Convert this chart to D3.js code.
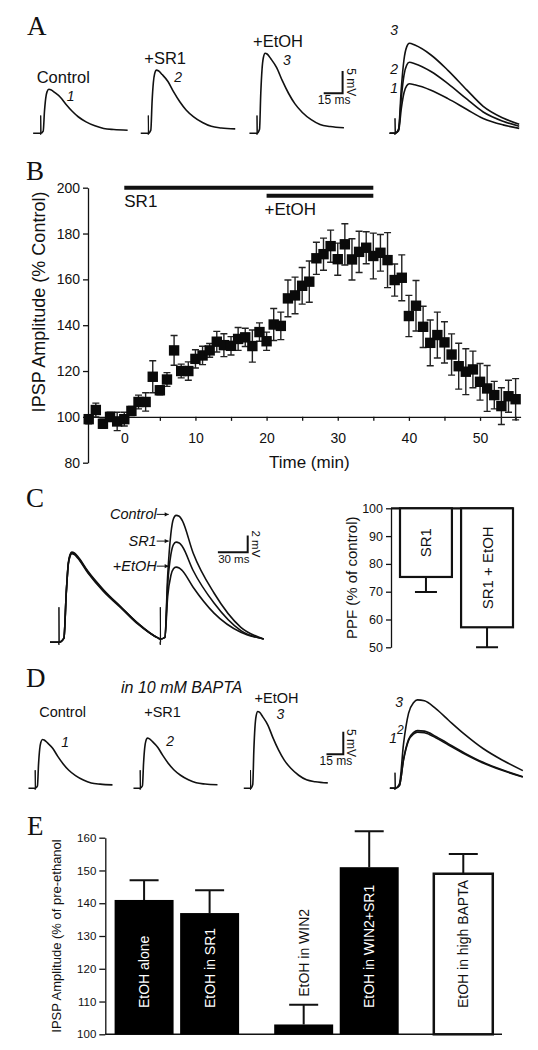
<!DOCTYPE html>
<html><head><meta charset="utf-8">
<script src="https://cdn.jsdelivr.net/npm/d3@7"></script>
<style>html,body{margin:0;padding:0;background:#fff;}svg{display:block;}</style>
</head><body>
<svg id="fig" width="538" height="1050"></svg>
<script>
// ================= DATA =================
// IPSP waveform template (ms after stimulus, fraction of peak)
const waveTime  = [-6, 0, 2, 3, 4, 5, 6.5, 8, 11, 15.6, 20, 25, 30, 36, 43, 50, 58, 69];
const waveShape = [0, 0, 0.05, 0.5, 0.8, 0.94, 1.0, 0.99, 0.93, 0.82, 0.66, 0.5, 0.37, 0.26, 0.17, 0.11, 0.085, 0.07];
// waveform of the overlay in A (slower sweep)
const overlayTime  = [-3, 0, 2, 3.5, 5, 6.5, 8, 11, 20, 29.4, 40, 49, 60, 69];
const overlayShape = [0, 0, 0.05, 0.5, 0.82, 0.96, 1.0, 0.98, 0.87, 0.7, 0.48, 0.3, 0.17, 0.1];
// broader waveform of the BAPTA overlay in D
const broadTime  = [-3, 0, 2.6, 5, 8, 11, 13.2, 17.3, 24, 31.5, 41, 51.8, 63, 75.2];
const broadShape = [0, 0, 0.05, 0.5, 0.85, 0.97, 1.0, 0.99, 0.9, 0.77, 0.61, 0.45, 0.32, 0.2];

// Panel A
const conditionsA = ["Control", "+SR1", "+EtOH"];
const traceIds = ["1", "2", "3"];
const peakA = [9.9, 14.2, 18.0];          // mV

// Panel B
const timeMin = [-5,-4,-3,-2,-1,0,1,2,3,4,5,6,7,8,9,10,11,12,13,14,15,16,17,18,19,20,21,22,23,24,25,26,27,28,29,30,31,32,33,34,35,36,37,38,39,40,41,42,43,44,45,46,47,48,49,50,51,52,53,54,55];
const ipspMean = [99,103,97,100,98, 99,102.6,106.5,106.5,117.5,111.6,116.3,129,120,120,
  125.3,126.8,129,132.8,131.3,131,134,134.7,130.9,137,
  133,140.3,139.7,151.7,153,157.2,159,169.2,171,174.5,
  168.8,175.3,168.7,172,173.8,170.2,171.6,168.4,159.7,160.7,
  144,148.5,139.3,132.3,135.7,132.5,127.2,122.1,119.7,120.7,
  115.3,112.4,109.5,104.7,109,107.7];
const ipspSem = [2,3,2,2,4, 3,2,3,4,7,2,3,6.5,3,4,
  4,4,3,4.5,5,4,5,4,7,4,
  4,7,6,8,8,8,9,7,7,7,
  7,9,9,9,7,10,8,12,7,10,
  9,11,9,10,10,9,9,10,10,8,
  8,10,6,8,7,9];
const treatments = ["SR1", "+EtOH"];
const treatStart = [0, 20];
const treatEnd = [35, 35];
const yTicksB = [80, 100, 120, 140, 160, 180, 200];

// Panel C (paired pulse traces, ms / mV)
const ppTime    = [0, 9, 14, 16.4, 18.4, 20.2, 21.9, 24.5, 27.8, 38.2, 53.8, 71.6, 88.2, 109, 111, 115.6, 118.4, 121.6, 124.2, 126.8, 130, 133, 144, 165, 192, 215];
const ppControl = [0, 0, 0.5, 6, 9.5, 10.5, 10.8, 10.7, 10.3, 8.5, 6.3, 4.2, 2.3, 0.5, 0.4, 0.6, 8, 13, 14.8, 15.2, 15.1, 14.6, 10.7, 5.9, 1.8, 0.4];
const ppSR1     = [0, 0, 0.5, 6, 9.4, 10.4, 10.7, 10.6, 10.2, 8.4, 6.2, 4.2, 2.3, 0.5, 0.4, 0.6, 7, 10.5, 11.7, 12, 11.9, 11.5, 8.6, 4.7, 1.4, 0.4];
const ppEtOH    = [0, 0, 0.5, 6, 9.3, 10.3, 10.6, 10.5, 10.1, 8.3, 6.1, 4.1, 2.2, 0.5, 0.4, 0.6, 5.5, 8, 8.8, 9, 8.9, 8.6, 6.6, 3.5, 1.2, 0.4];
const ppLabels  = ["Control", "SR1", "+EtOH"];
const stimC = [9, 111];
const ppfGroups = ["SR1", "SR1 + EtOH"];
const ppfMean = [75.3, 57.2];
const ppfSem = [5.4, 7.2];
const yTicksC = [50, 60, 70, 80, 90, 100];

// Panel D
const conditionsD = ["Control", "+SR1", "+EtOH"];
const peakD = [10.8, 11.1, 17.0];         // mV

// Panel E
const eCats = ["EtOH alone", "EtOH in SR1", "EtOH in WIN2", "EtOH in WIN2+SR1", "EtOH in high BAPTA"];
const eMean = [141, 137, 103, 151, 149];
const eSem  = [6, 7, 6, 11, 6];
const eGroup = [0, 0, 1, 1, 2];
const eSlot  = [0, 1, 0, 1, 0];
const eFill  = ["black", "black", "black", "black", "white"];
const yTicksE = [100, 110, 120, 130, 140, 150, 160];

// ================= DRAWING =================
const svg = d3.select("#fig");
svg.append("rect").attr("width", 538).attr("height", 1050).attr("fill", "#fff");
const SANS = "'Liberation Sans', Arial, Helvetica, sans-serif";
const SERIF = "'Liberation Serif', 'Times New Roman', serif";
const INK = "#111";

function txt(g, x, y, s, o = {}) {
  const t = g.append("text").attr("x", x).attr("y", y).text(s)
    .attr("font-family", o.serif ? SERIF : SANS).attr("font-size", o.size || 14)
    .attr("fill", o.fill || INK);
  if (o.italic) t.attr("font-style", "italic");
  if (o.anchor) t.attr("text-anchor", o.anchor);
  if (o.baseline) t.attr("dominant-baseline", o.baseline);
  if (o.rotate != null) t.attr("transform", `rotate(${o.rotate},${x},${y})`);
  return t;
}
const msScale = (stimX, pxPerMs) => d3.scaleLinear().domain([0, 100]).range([stimX, stimX + 100 * pxPerMs]);
const mvScale = (base, pxPerMv) => d3.scaleLinear().domain([0, 10]).range([base, base - 10 * pxPerMv]);

function trace(g, times, vals, x, y, w = 1.6) {
  g.append("path").datum(d3.zip(times, vals))
    .attr("d", d3.line().x(d => x(d[0])).y(d => y(d[1])).curve(d3.curveMonotoneX))
    .attr("fill", "none").attr("stroke", INK).attr("stroke-width", w).attr("stroke-linejoin", "round");
}
function artifact(g, x, y, t, h) {
  g.append("path").datum([[t - 0.4, 0], [t, -0.3], [t, h], [t + 0.3, 0]])
    .attr("d", d3.line().x(d => x(d[0])).y(d => y(d[1])))
    .attr("fill", "none").attr("stroke", INK).attr("stroke-width", 1);
}
function scaleBar(g, x, y, cx, cy, ms, mv, msLabel, mvLabel, fs) {
  const w = x(ms) - x(0), h = y(0) - y(mv);
  g.append("path").attr("d", `M${cx - w},${cy}H${cx}V${cy - h}`)
    .attr("fill", "none").attr("stroke", INK).attr("stroke-width", 2);
  txt(g, cx - w / 2 + 1, cy + 11, msLabel, {size: fs, anchor: "middle"});
  txt(g, cx + 4, cy - h / 2, mvLabel, {size: fs, anchor: "middle", rotate: 90});
}
function letter(s, x, y) { txt(svg, x, y, s, {serif: true, size: 27}); }

// ---------- Panel A ----------
const gA = svg.append("g");
letter("A", 27, 35);
const A = {base: 133.3, pxPerMs: 1.26, pxPerMv: 4.45, stims: [40.7, 148.3, 257]};
const yA = mvScale(A.base, A.pxPerMv);
conditionsA.forEach((c, i) => {
  const x = msScale(A.stims[i], A.pxPerMs);
  trace(gA, waveTime, waveShape.map(s => s * peakA[i]), x, yA);
  artifact(gA, x, yA, 0, 4);
  const py = yA(peakA[i]);
  txt(gA, x(0) - 4, py - 6, c, {size: 16.5});
  txt(gA, x(0) + 26, py + 12, traceIds[i], {size: 14, italic: true});
});
scaleBar(gA, msScale(0, A.pxPerMs), yA, 342.6, 93.3, 15, 5, "15 ms", "5 mV", 12);
{
  const x = msScale(395, 1.8), y = mvScale(A.base, 5.0);
  const off = [9, 12, -8];
  peakA.forEach((p, i) => {
    trace(gA, overlayTime, overlayShape.map(s => s * p), x, y);
    txt(gA, x(0) + 3, y(p) + off[i], traceIds[i], {size: 14, italic: true, anchor: "end"});
  });
  artifact(gA, x, y, 0, 3);
}

// ---------- Panel B ----------
const gB = svg.append("g");
letter("B", 26, 180);
const xB = d3.scaleLinear().domain([-5.1, 55.7]).range([88, 520.6]);
const yB = d3.scaleLinear().domain([80, 200]).range([462.7, 187.7]);
const axB = gB.append("g").attr("transform", `translate(${xB.range()[0]},0)`)
  .call(d3.axisLeft(yB).tickValues(yTicksB).tickSize(5).tickSizeOuter(0).tickPadding(3));
const axBx = gB.append("g").attr("transform", `translate(0,${yB(100)})`)
  .call(d3.axisBottom(xB).tickValues(d3.range(0, 56, 5)).tickFormat(d => d % 10 === 0 ? d : "")
    .tickSize(4).tickSizeOuter(0).tickPadding(12));
[axB, axBx].forEach(a => {
  a.attr("font-size", 14).attr("font-family", SANS);
  a.selectAll("path,line").attr("stroke", INK).attr("stroke-width", 1.3);
  a.selectAll("text").attr("fill", INK);
});
treatments.forEach((t, i) => {
  const yy = yB(200) + i * 8;
  gB.append("line").attr("x1", xB(treatStart[i])).attr("x2", xB(treatEnd[i]))
    .attr("y1", yy).attr("y2", yy).attr("stroke", INK).attr("stroke-width", 4);
  txt(gB, xB(treatStart[i]) - (i ? 2 : 0), yy + 19, t, {size: 17});
});
const pts = gB.append("g");
timeMin.forEach((t, i) => {
  const cx = xB(t), lo = yB(ipspMean[i] - ipspSem[i]), hi = yB(ipspMean[i] + ipspSem[i]);
  pts.append("path").attr("d", `M${cx},${lo}V${hi}M${cx - 3.5},${hi}H${cx + 3.5}M${cx - 3.5},${lo}H${cx + 3.5}`)
    .attr("stroke", "#222").attr("stroke-width", 1.4).attr("fill", "none");
});
timeMin.forEach((t, i) => {
  pts.append("rect").attr("x", xB(t) - 5.2).attr("y", yB(ipspMean[i]) - 5.2)
    .attr("width", 10.4).attr("height", 10.4).attr("fill", "#0a0a0a");
});
txt(gB, 45, 302, "IPSP Amplitude (% Control)", {size: 18, anchor: "middle", rotate: -90});
txt(gB, xB(26), 468, "Time (min)", {size: 17, anchor: "middle"});

// ---------- Panel C ----------
const gC = svg.append("g");
letter("C", 26, 507);
const xC = msScale(50, 0.994), yC = mvScale(642.3, 8.35);
[ppControl, ppSR1, ppEtOH].forEach(v => trace(gC, ppTime, v, xC, yC, 1.6));
stimC.forEach(s => artifact(gC, xC, yC, s, 4.2));
[ppControl, ppSR1, ppEtOH].forEach((v, i) => {
  const py = yC(d3.max(v.slice(14)));
  const ex = xC(118.4) + 1, sx = ex - 12;
  gC.append("path").attr("d", `M${sx},${py - 1}H${ex}`).attr("stroke", INK).attr("stroke-width", 1);
  gC.append("path").attr("d", `M${ex},${py - 1}l-4,-2.2v4.4z`).attr("fill", INK);
  txt(gC, sx, py + 4, ppLabels[i], {size: 14.5, italic: true, anchor: "end"});
});
scaleBar(gC, msScale(0, 0.994), yC, 247.7, 552.3, 30, 2, "30 ms", "2 mV", 11.5);
// PPF bars
const yP = d3.scaleLinear().domain([50, 100]).range([647.3, 508.3]);
const xP = d3.scaleBand().domain(ppfGroups).range([400, 513]).paddingInner(0.15);
const axP = gC.append("g").attr("transform", "translate(391,0)")
  .call(d3.axisLeft(yP).tickValues(yTicksC).tickSize(5).tickSizeOuter(0).tickPadding(3));
axP.attr("font-size", 12.5).attr("font-family", SANS);
axP.selectAll("path,line").attr("stroke", INK).attr("stroke-width", 1.3);
axP.selectAll("text").attr("fill", INK);
gC.append("line").attr("x1", 391).attr("x2", xP.range()[1]).attr("y1", yP(100)).attr("y2", yP(100))
  .attr("stroke", INK).attr("stroke-width", 2.2);
ppfGroups.forEach((g, i) => {
  const x0 = xP(g), bw = xP.bandwidth(), cx = x0 + bw / 2;
  const lo = yP(ppfMean[i] - ppfSem[i]);
  gC.append("path").attr("d", `M${cx},${yP(ppfMean[i])}V${lo}M${cx - 11},${lo}H${cx + 11}`)
    .attr("stroke", INK).attr("stroke-width", 2).attr("fill", "none");
  gC.append("rect").attr("x", x0).attr("y", yP(100)).attr("width", bw)
    .attr("height", yP(ppfMean[i]) - yP(100)).attr("fill", "#fff").attr("stroke", INK).attr("stroke-width", 2.2);
  txt(gC, cx, (yP(100) + yP(ppfMean[i])) / 2, g, {size: 15, anchor: "middle", baseline: "central", rotate: -90});
});
txt(gC, 357, (yP(50) + yP(100)) / 2, "PPF (% of control)", {size: 15, anchor: "middle", rotate: -90});

// ---------- Panel D ----------
const gD = svg.append("g");
letter("D", 26, 687);
txt(gD, 121, 693, "in 10 mM BAPTA", {size: 16, italic: true});
const D = {base: 788.3, pxPerMs: 1.12, pxPerMv: 4.52, stims: [35.2, 140.2, 250.5]};
const yD = mvScale(D.base, D.pxPerMv);
conditionsD.forEach((c, i) => {
  const x = msScale(D.stims[i], D.pxPerMs);
  trace(gD, waveTime, waveShape.map(s => s * peakD[i]), x, yD);
  artifact(gD, x, yD, 0, 4);
  const py = yD(peakD[i]);
  txt(gD, x(0) + 4, Math.min(py, yD(14)) - 8, c, {size: 14.5});
  txt(gD, x(0) + 26, py + 8, traceIds[i], {size: 14, italic: true});
});
scaleBar(gD, msScale(0, D.pxPerMs), yD, 343.3, 754.3, 15, 5, "15 ms", "5 mV", 12);
{
  const x = msScale(395, 1.7), y = mvScale(D.base, 5.2);
  peakD.forEach(p => trace(gD, broadTime, broadShape.map(s => s * p), x, y));
  artifact(gD, x, y, 0, 3);
  txt(gD, x(0) + 8, y(peakD[2]) + 7, traceIds[2], {size: 14, italic: true, anchor: "end"});
  txt(gD, x(0) + 2, y(peakD[0]) + 11, traceIds[0], {size: 14, italic: true, anchor: "end"});
  txt(gD, x(0) + 2, y(peakD[0]) + 2, traceIds[1], {size: 12, italic: true});
}

// ---------- Panel E ----------
const gE = svg.append("g");
letter("E", 27, 835);
const yE = d3.scaleLinear().domain([100, 160]).range([1034.3, 837.7]);
const xG = d3.scaleBand().domain([0, 1, 2]).range([114.6, 114.6 + 3 * 159.6]);
const xS = d3.scaleBand().domain([0, 1]).range([0, 124.5]).paddingInner(0.1);
const axE = gE.append("g").attr("transform", "translate(105.3,0)")
  .call(d3.axisLeft(yE).tickValues(yTicksE).tickSize(6).tickSizeOuter(0).tickPadding(3));
axE.attr("font-size", 11.5).attr("font-family", SANS);
axE.selectAll("path,line").attr("stroke", INK).attr("stroke-width", 1.3);
axE.selectAll("text").attr("fill", INK);
gE.append("line").attr("x1", 105.3).attr("x2", 502).attr("y1", yE(100)).attr("y2", yE(100))
  .attr("stroke", INK).attr("stroke-width", 1.5);
eCats.forEach((c, i) => {
  const x0 = xG(eGroup[i]) + xS(eSlot[i]), bw = xS.bandwidth(), cx = x0 + bw / 2;
  const top = yE(eMean[i]), hi = yE(eMean[i] + eSem[i]);
  gE.append("path").attr("d", `M${cx},${top}V${hi}M${cx - 14.5},${hi}H${cx + 14.5}`)
    .attr("stroke", INK).attr("stroke-width", 2).attr("fill", "none");
  const r = gE.append("rect").attr("x", x0).attr("y", top).attr("width", bw)
    .attr("height", yE(100) - top).attr("fill", eFill[i] === "black" ? "#000" : "#fff");
  if (eFill[i] !== "black") r.attr("stroke", INK).attr("stroke-width", 2.5);
  const inside = eMean[i] >= 115;
  const ly = inside ? yE(108) : hi - 8;
  txt(gE, cx, ly, c, {size: 14, baseline: "central", rotate: -90,
    fill: inside && eFill[i] === "black" ? "#fff" : INK});
});
txt(gE, 61, (yE(100) + yE(160)) / 2, "IPSP Amplitude (% of pre-ethanol", {size: 13, anchor: "middle", rotate: -90});
</script>
</body></html>
